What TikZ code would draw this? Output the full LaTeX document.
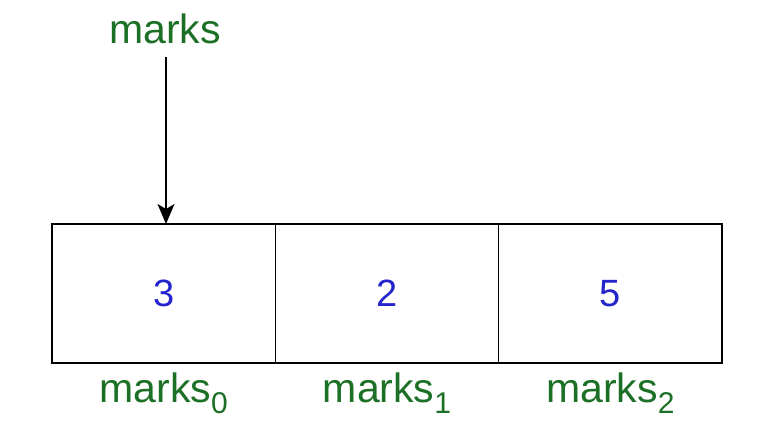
\documentclass[tikz,border=0pt]{standalone}
\usepackage{fontspec}
\setmainfont{Liberation Sans}
\usetikzlibrary{positioning,arrows.meta}
\definecolor{lblgreen}{RGB}{28,112,38}
\definecolor{valblue}{RGB}{36,36,204}
\newcommand{\subidx}[1]{\raisebox{-0.25em}{\fontsize{30}{32}\selectfont #1}}
\tikzset{
    cell/.style={draw, line width=1.6pt, minimum width=223.3pt, minimum height=139pt, inner sep=0pt, outer sep=0pt, text=valblue, font=\fontsize{38}{42}\selectfont},
    lbl/.style={text=lblgreen, font=\fontsize{41}{45}\selectfont, inner sep=3pt},
    ptrarrow/.style={-{Stealth[length=20pt, width=17pt, inset=5pt]}, line width=1.5pt}
}
\begin{document}
\begin{tikzpicture}[x=1pt, y=1pt]
        \useasboundingbox (0, 0) rectangle (762, 441);

        \node[cell] (c0) at (163.7, 147.5) {3};
        \node[cell, right=0pt of c0] (c1) {2};
        \node[cell, right=0pt of c1] (c2) {5};

        \node[lbl, anchor=base] (ptr) at (165, 397) {marks};
        \draw[ptrarrow, shorten <=9pt] (ptr.south -| 166, 0) -- (166, 217);

        \node[lbl, anchor=base] (l0) at ([yshift=-40pt]c0.south) {marks\subidx{0}};
        \node[lbl, anchor=base] (l1) at ([yshift=-40pt]c1.south) {marks\subidx{1}};
        \node[lbl, anchor=base] (l2) at ([yshift=-40pt]c2.south) {marks\subidx{2}};
    \end{tikzpicture}
\end{document}
